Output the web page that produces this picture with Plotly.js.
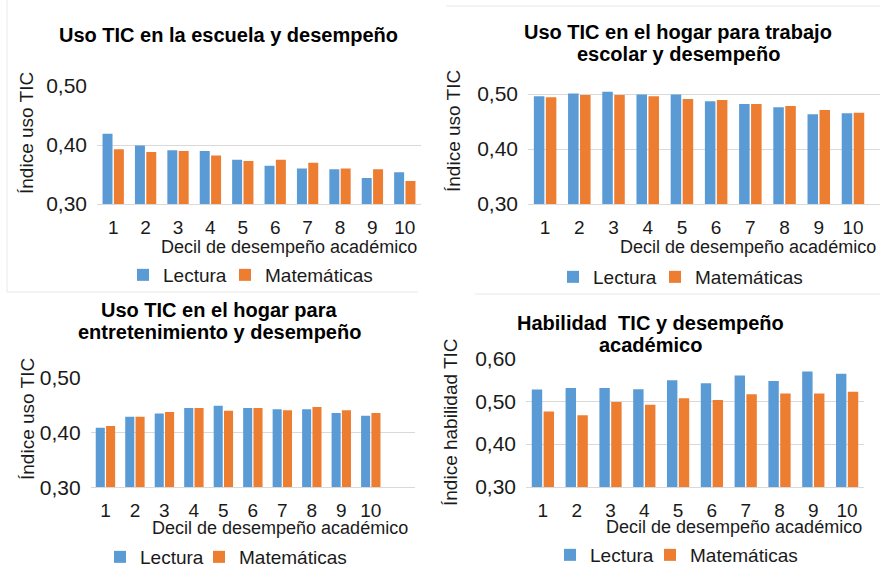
<!DOCTYPE html>
<html><head><meta charset="utf-8">
<script src="https://cdn.plot.ly/plotly-3.0.1.min.js"></script>
<style>html,body{margin:0;padding:0;background:#fff}#chart{width:880px;height:578px}</style>
</head><body><div id="chart"></div>
<script>
// ---- data ----
const deciles = ["1","2","3","4","5","6","7","8","9","10"];
const seriesNames = ["Lectura", "Matemáticas"];
const panelTitles = [
  ["Uso TIC en la escuela y desempeño"],
  ["Uso TIC en el hogar para trabajo", "escolar y desempeño"],
  ["Uso TIC en el hogar para", "entretenimiento y desempeño"],
  ["Habilidad  TIC y desempeño", "académico"]
];
const yTitles = ["Índice uso TIC", "Índice uso TIC", "Índice uso TIC", "Índice habilidad TIC"];
const xTitle = "Decil de desempeño académico";

const escuelaLectura     = [0.419, 0.399, 0.391, 0.390, 0.375, 0.365, 0.360, 0.359, 0.344, 0.354];
const escuelaMatematicas = [0.393, 0.388, 0.390, 0.382, 0.373, 0.375, 0.370, 0.360, 0.359, 0.339];
const trabajoLectura     = [0.496, 0.501, 0.504, 0.499, 0.499, 0.487, 0.482, 0.476, 0.463, 0.465];
const trabajoMatematicas = [0.494, 0.498, 0.498, 0.496, 0.491, 0.489, 0.482, 0.478, 0.471, 0.466];
const entretLectura      = [0.409, 0.429, 0.435, 0.445, 0.449, 0.445, 0.443, 0.443, 0.436, 0.431];
const entretMatematicas  = [0.412, 0.429, 0.438, 0.445, 0.440, 0.445, 0.441, 0.447, 0.441, 0.436];
const habilLectura       = [0.527, 0.531, 0.531, 0.528, 0.549, 0.542, 0.560, 0.547, 0.569, 0.564];
const habilMatematicas   = [0.476, 0.467, 0.498, 0.492, 0.507, 0.503, 0.516, 0.518, 0.518, 0.522];

const panelData = [
  [escuelaLectura, escuelaMatematicas],
  [trabajoLectura, trabajoMatematicas],
  [entretLectura, entretMatematicas],
  [habilLectura, habilMatematicas]
];

// ---- styling / layout ----
const W = 880, H = 578;
const px = v => v / W, py = v => 1 - v / H;
const colors = ["#5b9bd5", "#ed7d31"];
const FONT = "Liberation Sans, Arial, sans-serif";

// plot boxes in pixels: [left, right, bottom, top]
const boxes = [
  [97, 421, 204, 86],
  [528, 880, 204, 88.5],
  [90.7, 415, 487.3, 378],
  [526, 864, 487, 358.3]
];
const yRanges = [[0.3, 0.5], [0.3, 0.51], [0.3, 0.5], [0.3, 0.6]];
const xRanges = [[-0.5, 9.5], [-0.5, 9.79], [-0.5, 10.5], [-0.5, 9.5]];
// title line centres: [x, y of first line]
const titlePos = [[228, 35], [678, 32], [219, 310], [650, 323]];
const titleLineGap = 22;
const yTitlePos = [[27, 133], [453, 131], [27, 419], [450, 422]];
const xTitlePos = [[419, 247], [878, 247], [410, 528], [864, 527]];
// legend entry starts (per series) and vertical centre
const legendX = [[123, 225], [553, 655], [100, 199], [550, 650]];
const legendY = [275, 277, 557, 555];

const traces = [];
const layout = {
  width: W, height: H,
  margin: {l: 0, r: 0, t: 0, b: 0},
  paper_bgcolor: "#fff", plot_bgcolor: "#fff",
  separators: ",.",
  showlegend: true,
  barmode: "group", bargap: 0.3, bargroupgap: 0.12,
  font: {family: FONT, color: "#1a1a1a"},
  annotations: [], shapes: []
};

let legendCount = 0;
panelData.forEach((pair, i) => {
  const s = i === 0 ? "" : String(i + 1);
  pair.forEach((vals, k) => {
    legendCount += 1;
    const lg = legendCount === 1 ? "legend" : "legend" + legendCount;
    traces.push({
      type: "bar", x: deciles, y: vals, name: seriesNames[k],
      xaxis: "x" + s, yaxis: "y" + s, legend: lg, showlegend: true,
      marker: {color: colors[k]}, hoverinfo: "x+y"
    });
    layout[lg] = {
      orientation: "h", x: px(legendX[i][k]), y: py(legendY[i]),
      xanchor: "left", yanchor: "middle", font: {size: 19, family: FONT, color: "#1a1a1a"},
      bgcolor: "rgba(0,0,0,0)", itemclick: false, itemdoubleclick: false
    };
  });
  const b = boxes[i];
  layout["xaxis" + s] = {
    domain: [px(b[0]), px(b[1])], anchor: "y" + s, type: "category",
    range: xRanges[i], showgrid: false, showline: true, linecolor: "#d9d9d9",
    linewidth: 1, ticks: "", tickfont: {size: 19, family: FONT, color: "#1a1a1a"},
    ticklabelstandoff: 6, fixedrange: true
  };
  layout["yaxis" + s] = {
    domain: [py(b[2]), py(b[3])], anchor: "x" + s, range: yRanges[i],
    tick0: 0.3, dtick: 0.1, tickformat: ".2f", showgrid: true, gridcolor: "#d9d9d9",
    zeroline: false, showline: false, ticks: "", ticklabelstandoff: 9,
    tickfont: {size: 21, family: FONT, color: "#1a1a1a"}, fixedrange: true
  };
  panelTitles[i].forEach((line, j) => {
    layout.annotations.push({
      text: "<b>" + line + "</b>",
      xref: "paper", yref: "paper", x: px(titlePos[i][0]),
      y: py(titlePos[i][1] + j * titleLineGap),
      xanchor: "center", yanchor: "middle", showarrow: false,
      font: {size: 20, family: FONT, color: "#000"}
    });
  });
  layout.annotations.push({
    text: yTitles[i], textangle: -90,
    xref: "paper", yref: "paper", x: px(yTitlePos[i][0]), y: py(yTitlePos[i][1]),
    xanchor: "center", yanchor: "middle", showarrow: false,
    font: {size: 19, family: FONT, color: "#1a1a1a"}
  });
  layout.annotations.push({
    text: xTitle,
    xref: "paper", yref: "paper", x: px(xTitlePos[i][0]), y: py(xTitlePos[i][1]),
    xanchor: "right", yanchor: "middle", showarrow: false,
    font: {size: 18, family: FONT, color: "#1a1a1a"}
  });
});

// faint panel frames
const frameLine = (x0, y0, x1, y1) => ({
  type: "line", xref: "paper", yref: "paper",
  x0: px(x0), y0: py(y0), x1: px(x1), y1: py(y1),
  line: {color: "#e8e8e8", width: 1}
});
layout.shapes.push(frameLine(7, 0, 7, 292));
layout.shapes.push(frameLine(7, 292, 418, 292));
layout.shapes.push(frameLine(446, 6, 880, 6));
layout.shapes.push(frameLine(475, 294, 880, 294));

Plotly.newPlot("chart", traces, layout, {displayModeBar: false, staticPlot: true});
</script>
</body></html>
